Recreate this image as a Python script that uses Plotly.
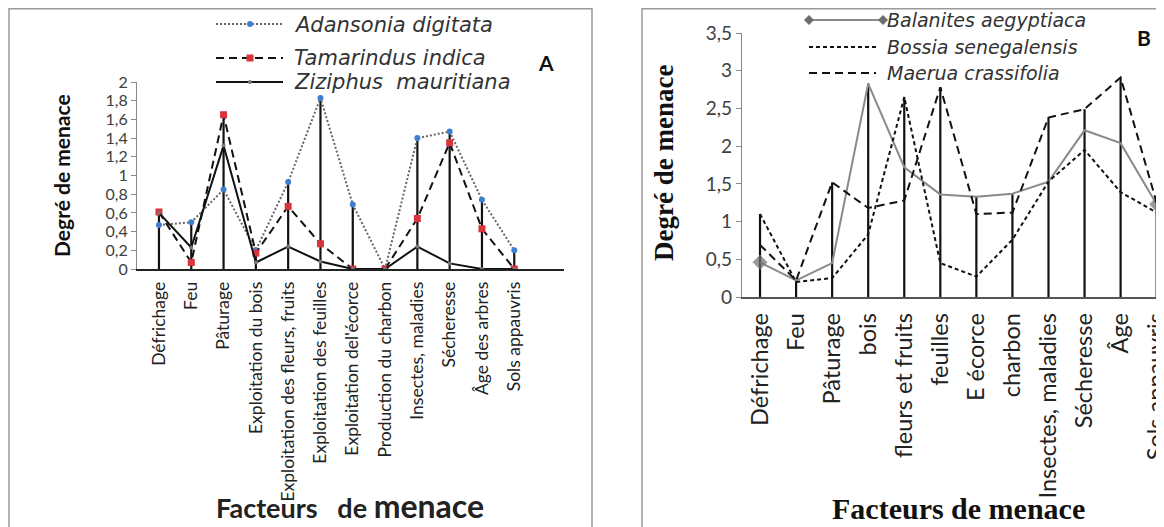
import plotly.graph_objects as go

# page body has an 8px margin: the figure is drawn 8px right/down of the page corner
OFF = 8
W, H = 1164 - OFF, 527 - OFF

# ---------------- data ----------------
cats_A = ["Défrichage", "Feu", "Pâturage", "Exploitation du bois",
          "Exploitation des fleurs, fruits", "Exploitation des feuilles",
          "Exploitation del'écorce", "Production du charbon", "Insectes, maladies",
          "Sécheresse", "Âge des arbres", "Sols appauvris"]
adansonia = [0.47, 0.50, 0.85, 0.20, 0.93, 1.83, 0.69, 0.00, 1.40, 1.47, 0.74, 0.20]
tamarindus = [0.61, 0.07, 1.65, 0.17, 0.67, 0.27, 0.00, 0.00, 0.54, 1.35, 0.43, 0.00]
ziziphus = [0.60, 0.23, 1.32, 0.07, 0.24, 0.08, 0.00, 0.00, 0.24, 0.06, 0.00, 0.00]
yticks_A = [0, 0.2, 0.4, 0.6, 0.8, 1, 1.2, 1.4, 1.6, 1.8, 2]
ylabels_A = ["0", "0,2", "0,4", "0,6", "0,8", "1", "1,2", "1,4", "1,6", "1,8", "2"]

cats_B = ["Défrichage", "Feu", "Pâturage", "bois", "fleurs et fruits", "feuilles",
          "E écorce", "charbon", "Insectes, maladies", "Sécheresse", "Âge",
          "Sols appauvris"]
balanites = [0.46, 0.22, 0.45, 2.83, 1.72, 1.36, 1.33, 1.37, 1.53, 2.21, 2.04, 1.23]
bossia = [1.10, 0.20, 0.25, 0.83, 2.65, 0.45, 0.27, 0.76, 1.53, 1.95, 1.39, 1.12]
maerua = [0.69, 0.22, 1.52, 1.18, 1.28, 2.78, 1.10, 1.12, 2.38, 2.49, 2.91, 1.25]
yticks_B = [0, 0.5, 1, 1.5, 2, 2.5, 3, 3.5]
ylabels_B = ["0", "0,5", "1", "1,5", "2", "2,5", "3", "3,5"]


def px(x):
    return (x - OFF) / W


def py(y):
    return 1 - (y - OFF) / H


def drop_lines(series):
    xs, ys = [], []
    for i in range(len(series[0])):
        m = max(s[i] for s in series)
        if m > 0:
            xs += [i, i, None]
            ys += [0, m, None]
    return xs, ys


idxA = list(range(len(cats_A)))
idxB = list(range(len(cats_B)))

fig = go.Figure()

# ---------------- panel A ----------------
dx, dy = drop_lines([adansonia, tamarindus, ziziphus])
fig.add_trace(go.Scatter(x=dx, y=dy, mode="lines", line=dict(color="#111", width=2.2),
                         xaxis="x", yaxis="y", hoverinfo="skip"))
fig.add_trace(go.Scatter(x=idxA, y=adansonia, mode="lines+markers", name="Adansonia digitata",
                         line=dict(color="#666", width=2, dash="2px,2px"),
                         marker=dict(color="#3f7fd0", size=6, symbol="circle"),
                         xaxis="x", yaxis="y"))
fig.add_trace(go.Scatter(x=idxA, y=tamarindus, mode="lines+markers", name="Tamarindus indica",
                         line=dict(color="#111", width=2, dash="8px,5px"),
                         marker=dict(color="#d8343c", size=7, symbol="square"),
                         xaxis="x", yaxis="y"))
fig.add_trace(go.Scatter(x=idxA, y=ziziphus, mode="lines+markers", name="Ziziphus mauritiana",
                         line=dict(color="#111", width=2),
                         marker=dict(color="#777", size=4, symbol="circle"),
                         xaxis="x", yaxis="y"))

# ---------------- panel B ----------------
dx, dy = drop_lines([balanites, bossia, maerua])
fig.add_trace(go.Scatter(x=dx, y=dy, mode="lines", line=dict(color="#111", width=2.2),
                         xaxis="x2", yaxis="y2", hoverinfo="skip"))
msize = [11] + [0] * (len(balanites) - 2) + [11]
fig.add_trace(go.Scatter(x=idxB, y=balanites, mode="lines+markers", name="Balanites aegyptiaca",
                         line=dict(color="#8a8a8a", width=2),
                         marker=dict(color="#6e6e6e", size=msize, symbol="diamond"),
                         xaxis="x2", yaxis="y2"))
fig.add_trace(go.Scatter(x=idxB, y=bossia, mode="lines", name="Bossia senegalensis",
                         line=dict(color="#111", width=2, dash="4px,3px"),
                         xaxis="x2", yaxis="y2"))
fig.add_trace(go.Scatter(x=idxB, y=maerua, mode="lines", name="Maerua crassifolia",
                         line=dict(color="#111", width=2, dash="8px,5px"),
                         xaxis="x2", yaxis="y2"))

tickfontA = dict(family="Lato", size=17.5, color="#222")
tickfontB = dict(family="Lato", size=23.5, color="#222")

fig.update_layout(
    width=W, height=H,
    margin=dict(l=0, r=0, t=0, b=0),
    paper_bgcolor="white", plot_bgcolor="rgba(0,0,0,0)",
    showlegend=False,
    xaxis=dict(domain=[px(137), px(564)], range=[-0.68, 12.54], anchor="y",
               tickvals=idxA, ticktext=cats_A, tickangle=-90, tickfont=tickfontA,
               showline=True, linecolor="#222", linewidth=1.5, showgrid=False,
               zeroline=False, ticks="", automargin=False, ticklabelstandoff=4),
    yaxis=dict(domain=[py(269), py(82)], range=[0, 2], anchor="x",
               tickvals=yticks_A, ticktext=ylabels_A,
               tickfont=dict(family="Lato", size=16, color="#404040"),
               showline=True, linecolor="#888", linewidth=1.2, ticks="outside",
               ticklen=5, tickcolor="#888", showgrid=False, zeroline=False,
               automargin=False),
    xaxis2=dict(domain=[px(742), 1.0], range=[-0.5, (1164 - 760) / 36.06], anchor="y2",
                tickvals=idxB, ticktext=cats_B, tickangle=-90, tickfont=tickfontB,
                showline=True, linecolor="#555", linewidth=1.5, showgrid=False,
                zeroline=False, ticks="", automargin=False, ticklabelstandoff=5,
                ticklabeloverflow="allow"),
    yaxis2=dict(domain=[py(297), py(33)], range=[0, 3.5], anchor="x2",
                tickvals=yticks_B, ticktext=ylabels_B,
                tickfont=dict(family="Lato", size=19, color="#404040"),
                showline=True, linecolor="#888", linewidth=1.2, ticks="outside",
                ticklen=5, tickcolor="#888", showgrid=False, zeroline=False,
                automargin=False),
)

shapes = []
# panel frames (top edges sit at the very top of the drawable area)
shapes.append(dict(type="rect", xref="paper", yref="paper", x0=px(9), x1=px(592),
                   y0=-0.05, y1=py(OFF + 0.8), line=dict(color="#9a9a9a", width=1.5)))
shapes.append(dict(type="rect", xref="paper", yref="paper", x0=px(642), x1=1.05,
                   y0=-0.05, y1=py(OFF + 0.8), line=dict(color="#9a9a9a", width=1.5)))


def leg_line(x0, x1, y, color, dash, width=2):
    shapes.append(dict(type="line", xref="paper", yref="paper", x0=px(x0), x1=px(x1),
                       y0=py(y), y1=py(y), line=dict(color=color, width=width, dash=dash)))


def leg_marker(x, y, kind, color, r):
    base = dict(xref="paper", yref="paper", xsizemode="pixel", ysizemode="pixel",
                xanchor=px(x), yanchor=py(y), fillcolor=color, line=dict(width=0))
    if kind == "circle":
        base.update(type="circle", x0=-r, x1=r, y0=-r, y1=r)
    elif kind == "square":
        base.update(type="rect", x0=-r, x1=r, y0=-r, y1=r)
    else:
        base.update(type="path", path=f"M 0 {r} L {r} 0 L 0 {-r} L {-r} 0 Z")
    shapes.append(base)


# legend A
leg_line(216, 283, 24, "#666", "2px,2px")
leg_marker(250, 24, "circle", "#3f7fd0", 3)
leg_line(216, 283, 58, "#111", "8px,5px")
leg_marker(250, 58, "square", "#d8343c", 3.5)
leg_line(216, 283, 82, "#111", "solid")
leg_marker(250, 82, "circle", "#777", 2)
# legend B
leg_line(809, 883, 20, "#8a8a8a", "solid")
leg_marker(809, 20, "diamond", "#6e6e6e", 5)
leg_marker(883, 20, "diamond", "#6e6e6e", 5)
leg_line(809, 876, 47, "#111", "4px,3px")
leg_line(809, 876, 73, "#111", "8px,5px")

fig.update_layout(shapes=shapes)

ann = []


def text(x, y, s, font, xanchor="center", angle=0):
    ann.append(dict(x=px(x), y=py(y), xref="paper", yref="paper", text=s, showarrow=False,
                    xanchor=xanchor, yanchor="middle", textangle=angle, font=font))


legfont_A = dict(family="DejaVu Sans", size=21, color="#333", style="italic")
text(292, 25, "Adansonia digitata", legfont_A, "left")
text(292, 58, "Tamarindus indica", legfont_A, "left")
text(292, 82, "Ziziphus  mauritiana", legfont_A, "left")
text(546, 63, "A", dict(family="Lato", size=21, color="#111", weight="bold"))
text(61, 176, "Degré de menace", dict(family="Lato", size=21, color="#111", weight="bold"),
     angle=-90)
text(350, 505, "Facteurs&nbsp;&nbsp; de <span style='font-size:32px'>menace</span>",
     dict(family="Lato", size=27, color="#222", weight="bold"))

legfont_B = dict(family="DejaVu Sans", size=19, color="#333", style="italic")
text(885, 20, "Balanites aegyptiaca", legfont_B, "left")
text(885, 47, "Bossia senegalensis", legfont_B, "left")
text(885, 73, "Maerua crassifolia", legfont_B, "left")
text(1144, 38, "B", dict(family="Lato", size=21, color="#111", weight="bold"))
text(664, 163, "Degré de menace",
     dict(family="Liberation Serif", size=27, color="#111", weight="bold"), angle=-90)
text(958, 508, "Facteurs de menace",
     dict(family="Liberation Serif", size=30, color="#111", weight="bold"))

fig.update_layout(annotations=ann)

fig.write_html("out.html")
